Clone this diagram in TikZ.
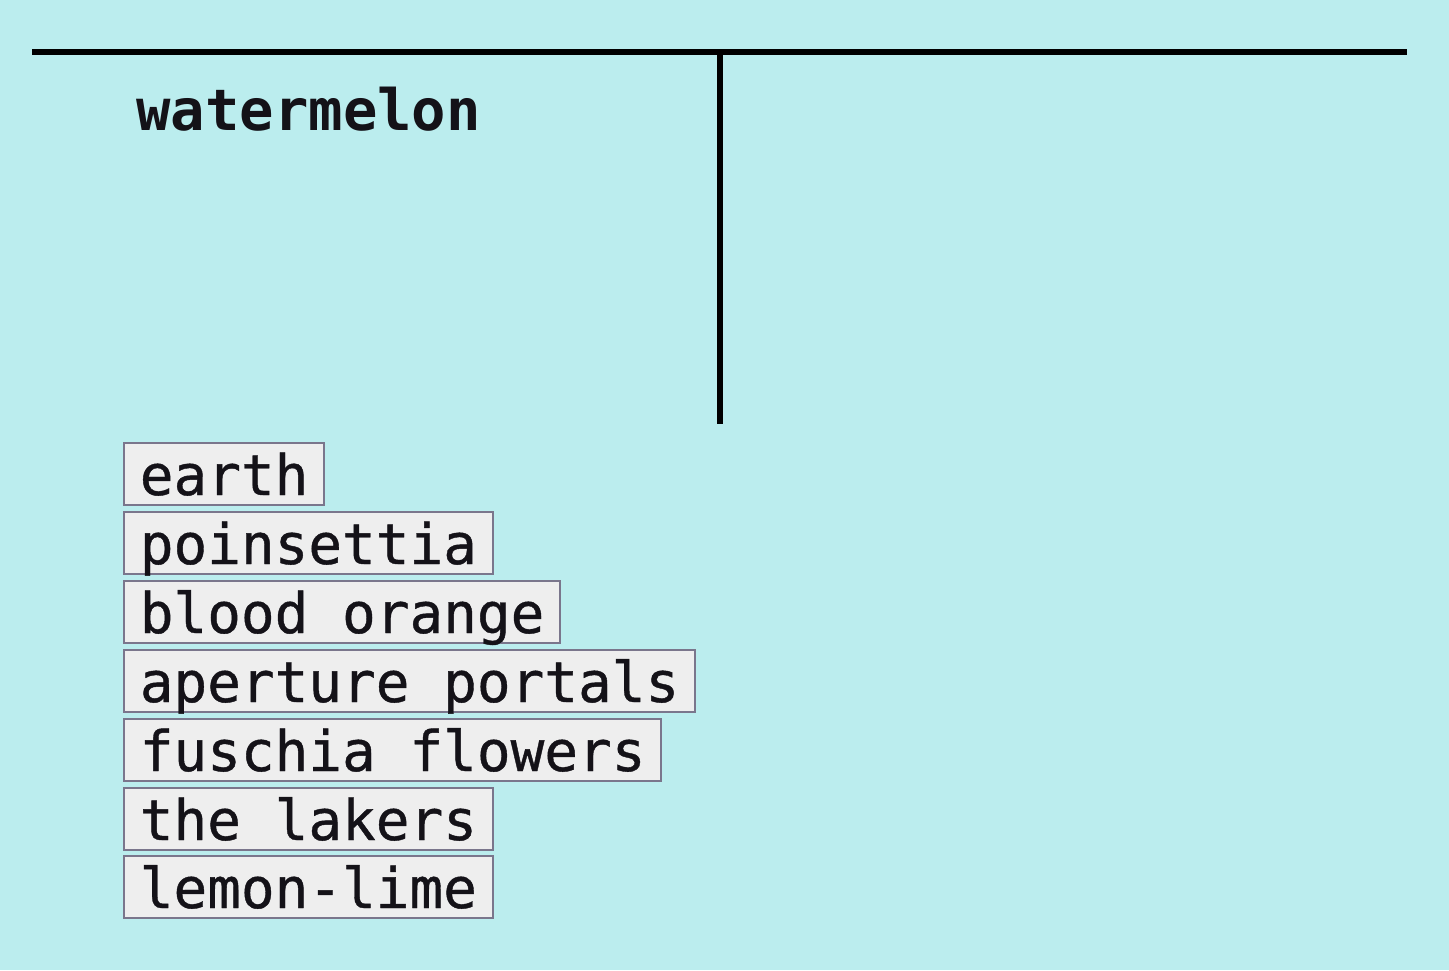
\documentclass[tikz,border=0pt]{standalone}
\usepackage{fontspec}
\setmonofont{DejaVu Sans Mono}
\newfontfamily\itemfont{DejaVu Sans Mono}[FakeBold=0.7]
\definecolor{bgcyan}{RGB}{187,237,238}
\definecolor{boxfill}{RGB}{238,238,238}
\definecolor{boxline}{RGB}{122,118,140}
\definecolor{inkdark}{RGB}{20,18,24}
\begin{document}
\begin{tikzpicture}[x=0.5pt,y=-0.5pt,
  rule/.style={line width=3pt, black},
  title/.style={anchor=base west, inner sep=0pt, text=inkdark,
    font=\ttfamily\bfseries\fontsize{28.6pt}{34pt}\selectfont},
  item/.style={anchor=north west, draw=boxline, fill=boxfill, line width=1pt,
    inner xsep=7.9pt, inner ysep=0pt, text height=26pt, text depth=5pt,
    text=inkdark, font=\itemfont\fontsize{28pt}{34pt}\selectfont}]
  \fill[bgcyan] (0,0) rectangle (1449,970);
  \useasboundingbox (0,0) rectangle (1449,970);
  % T-shaped rule
  \coordinate (hl) at (32,52);
  \coordinate (hr) at (1407,52);
  \coordinate (vt) at (720,52);
  \coordinate (vb) at (720,424);
  \draw[rule] (hl) -- (hr);
  \draw[rule] (vt) -- (vb);
  % heading
  \node[title] (head) at (136,130) {watermelon};
  % list of items
  \node[item] (i1) at (123,442) {earth};
  \node[item] (i2) at (123,511) {poinsettia};
  \node[item] (i3) at (123,580) {blood orange};
  \node[item] (i4) at (123,649) {aperture portals};
  \node[item] (i5) at (123,718) {fuschia flowers};
  \node[item] (i6) at (123,787) {the lakers};
  \node[item] (i7) at (123,855) {lemon-lime};
\end{tikzpicture}
\end{document}
